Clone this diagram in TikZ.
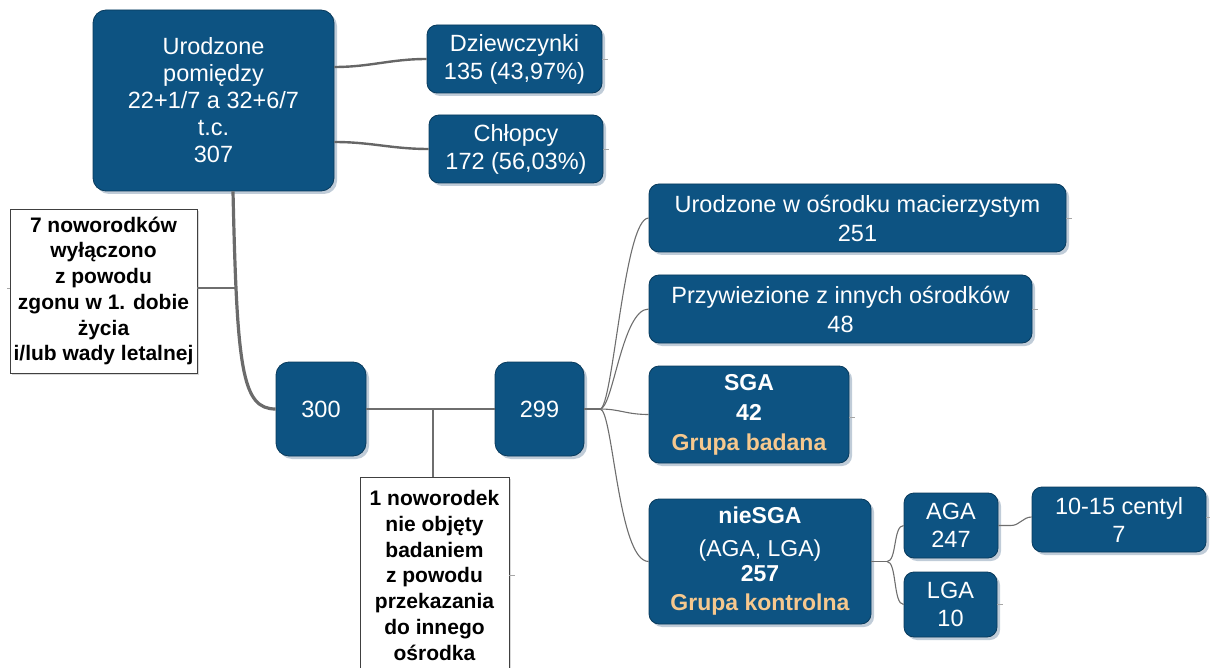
\documentclass[tikz,border=0pt]{standalone}
\usepackage{fontspec}
\setmainfont{Liberation Sans}
\usetikzlibrary{shadows}
\definecolor{boxblue}{RGB}{13,83,130}
\definecolor{boxedge}{RGB}{8,58,92}
\definecolor{shadowc}{RGB}{192,204,216}
\definecolor{peach}{RGB}{246,200,142}
\definecolor{linec}{RGB}{110,110,110}
\begin{document}
\begin{tikzpicture}[x=1pt,y=-1pt,
  bluebox/.style={draw=boxedge, line width=0.8pt, fill=boxblue, text=white,
    rounded corners=10pt, align=center, inner sep=0pt,
    drop shadow={shadow xshift=3pt, shadow yshift=-3pt, fill=shadowc, opacity=1}},
  whitebox/.style={draw=black!75, line width=0.8pt, fill=white, text=black,
    align=center, inner sep=0pt,
    drop shadow={shadow xshift=2pt, shadow yshift=-2pt, fill=black!15, opacity=1}},
  reg/.style={font=\fontsize{23.5}{28}\selectfont},
  boldtxt/.style={font=\bfseries\fontsize{21}{25.7}\selectfont},
  conn/.style={draw=linec, line width=1.1pt},
  thickconn/.style={draw=black!60, line width=2.4pt},
  trunk/.style={draw=black!58, line width=3.2pt},
  stub/.style={draw=black!35, line width=0.8pt}
]
\useasboundingbox (0,0) rectangle (1210,668);

% top level
\node[bluebox, reg, rounded corners=13pt, minimum width=241pt, minimum height=181pt,
  font=\fontsize{23.5}{27}\selectfont] (main) at (213.5,100.5)
  {Urodzone\\pomiędzy\\22+1/7 a 32+6/7\\t.c.\\307};
\node[bluebox, reg, minimum width=175pt, minimum height=68pt] (dz) at (514.5,59)
  {Dziewczynki\\135 (43,97\%)};
\node[bluebox, reg, minimum width=174pt, minimum height=68pt] (ch) at (516,149)
  {Chłopcy\\172 (56,03\%)};

% exclusion boxes
\node[whitebox, boldtxt, minimum width=187pt, minimum height=164pt] (ex7) at (103.5,291)
  {7 noworodków\\wyłączono\\z powodu\\zgonu w 1. dobie\\życia\\i/lub wady letalnej};
\node[whitebox, boldtxt, anchor=north, minimum width=149pt, minimum height=196pt] (ex1) at (434.5,477)
  {1 noworodek\\nie objęty\\badaniem\\z powodu\\przekazania\\do innego\\ośrodka};

% counts
\node[bluebox, reg, rounded corners=13pt, minimum width=90pt, minimum height=94pt] (n300) at (321,409) {300};
\node[bluebox, reg, rounded corners=13pt, minimum width=89pt, minimum height=94pt] (n299) at (539.5,409) {299};

% right column
\node[bluebox, reg, font=\fontsize{23.5}{29}\selectfont, minimum width=417pt, minimum height=68pt] (uro) at (857.5,218)
  {Urodzone w ośrodku macierzystym\\251};
\node[bluebox, reg, font=\fontsize{23.5}{29}\selectfont, minimum width=383pt, minimum height=68pt] (prz) at (840.5,309)
  {Przywiezione z innych ośrodków\\48};
\node[bluebox, minimum width=200pt, minimum height=97pt, font=\bfseries\fontsize{23}{30}\selectfont] (sga) at (749,414.5)
  {SGA\\42\\\textcolor{peach}{Grupa badana}};
\node[bluebox, minimum width=222pt, minimum height=125pt, font=\fontsize{23}{29}\selectfont] (nie) at (760,561.5)
  {\textbf{nieSGA}\\[4pt](AGA, LGA)\\[-4pt]\textbf{257}\\\textcolor{peach}{\textbf{Grupa kontrolna}}};
\node[bluebox, reg, minimum width=94pt, minimum height=65pt] (aga) at (951,525.5) {AGA\\247};
\node[bluebox, reg, minimum width=93pt, minimum height=65pt] (lga) at (950.5,604.5) {LGA\\10};
\node[bluebox, reg, minimum width=174pt, minimum height=65pt] (cen) at (1119,519.5) {10-15 centyl\\7};

% junction coordinates
\coordinate (j7) at (237,288);
\coordinate (j1) at (433,409);
\coordinate (b299) at (600,409);
\coordinate (bnie) at (887,561.5);
\coordinate (baga) at (1011,525.5);

% connectors
\draw[trunk] ([xshift=19.5pt]main.south) .. controls (237,370) and (242,409) .. (n300.west);
\draw[conn] ([yshift=3pt]ex7.east) -- (j7);
\draw[thickconn] ([yshift=33.5pt]main.east) to[out=0,in=180] (dz.west);
\draw[thickconn] ([yshift=-41.5pt]main.east) to[out=0,in=180] (ch.west);
\draw[conn] (n300.east) -- (n299.west);
\draw[conn] (j1) -- (j1 |- ex1.north);
\draw[conn] (n299.east) -- (b299);
\draw[conn] (b299) .. controls (613,409) and (624,218) .. (uro.west);
\draw[conn] (b299) .. controls (613,409) and (622,309) .. (prz.west);
\draw[conn] (b299) .. controls (620,409) and (626,414.5) .. (sga.west);
\draw[conn] (b299) .. controls (613,409) and (618,561.5) .. (nie.west);
\draw[conn] (nie.east) -- (bnie);
\draw[conn] (bnie) .. controls (897,561.5) and (893,525.5) .. (aga.west);
\draw[conn] (bnie) .. controls (897,561.5) and (893,604.5) .. (lga.west);
\draw[conn] (aga.east) -- (baga) to[out=0,in=180] ([yshift=2.5pt]cen.west);

% collapsed-branch stubs
\draw[stub] ([yshift=3pt]ex7.west) -- ++(-3,0);
\draw[stub] (dz.east) -- ++(6,0);
\draw[stub] (ch.east) -- ++(6,0);
\draw[stub] (uro.east) -- ++(6,0);
\draw[stub] (prz.east) -- ++(6,0);
\draw[stub] ([yshift=-3pt]sga.east) -- ++(6,0);
\draw[stub] (lga.east) -- ++(6,0);
\draw[stub] ([yshift=2.5pt]cen.east) -- ++(4,0);
\draw[stub] (ex1.east) -- ++(6,0);
\end{tikzpicture}
\end{document}
